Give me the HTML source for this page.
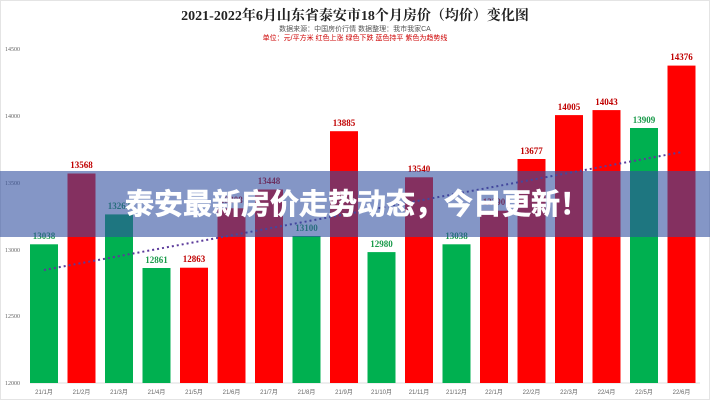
<!DOCTYPE html>
<html><head><meta charset="utf-8"><style>
html,body{margin:0;padding:0;background:#fff;}
svg{display:block;}
</style></head><body>
<svg width="710" height="400" viewBox="0 0 710 400" xmlns="http://www.w3.org/2000/svg" font-family="'Liberation Serif','Noto Serif CJK SC',serif">
<rect x="0" y="0" width="710" height="400" fill="#fff"/>
<rect x="0.5" y="0.5" width="709" height="399" fill="none" stroke="#e4e4e4"/>
<text x="355" y="20" text-anchor="middle" font-size="14" font-weight="bold" fill="#222">2021-2022年6月山东省泰安市18个月房价（均价）变化图</text>
<text x="355" y="31" text-anchor="middle" font-size="7" fill="#555" font-family="'Liberation Sans','Noto Sans CJK SC',sans-serif">数据来源：中国房价行情  数据整理：我市我家CA</text>
<text x="355" y="40" text-anchor="middle" font-size="7" fill="#c00" font-family="'Liberation Sans','Noto Sans CJK SC',sans-serif">单位：元/平方米  红色上涨  绿色下跌  蓝色持平  紫色为趋势线</text>
<g font-size="6" fill="#666">
<text x="5" y="51">14500</text><text x="5" y="118">14000</text><text x="5" y="185">13500</text><text x="5" y="252">13000</text><text x="5" y="318">12500</text><text x="5" y="385">12000</text>
</g>
<line x1="30" y1="383" x2="700" y2="383" stroke="#ddd"/>
<g>
<rect x="30" y="244.3" width="28" height="138.7" fill="#00b050"/>
<rect x="67.5" y="173.5" width="28" height="209.5" fill="#ff0000"/>
<rect x="105" y="214.4" width="28" height="168.6" fill="#00b050"/>
<rect x="142.5" y="268" width="28" height="115" fill="#00b050"/>
<rect x="180" y="267.7" width="28" height="115.3" fill="#ff0000"/>
<rect x="217.5" y="208.3" width="28" height="174.7" fill="#ff0000"/>
<rect x="255" y="189.5" width="28" height="193.5" fill="#ff0000"/>
<rect x="292.5" y="236" width="28" height="147" fill="#00b050"/>
<rect x="330" y="131.2" width="28" height="251.8" fill="#ff0000"/>
<rect x="367.5" y="252.1" width="28" height="130.9" fill="#00b050"/>
<rect x="405" y="177.3" width="28" height="205.7" fill="#ff0000"/>
<rect x="442.5" y="244.3" width="28" height="138.7" fill="#00b050"/>
<rect x="480" y="210.7" width="28" height="172.3" fill="#ff0000"/>
<rect x="517.5" y="159" width="28" height="224" fill="#ff0000"/>
<rect x="555" y="115.1" width="28" height="267.9" fill="#ff0000"/>
<rect x="592.5" y="110.1" width="28" height="272.9" fill="#ff0000"/>
<rect x="630" y="128" width="28" height="255" fill="#00b050"/>
<rect x="667.5" y="65.6" width="28" height="317.4" fill="#ff0000"/>
</g>
<line x1="44" y1="270" x2="682" y2="152" stroke="#5b3a9a" stroke-width="2" stroke-dasharray="2,3"/>
<g font-size="9" font-weight="bold" text-anchor="middle">
<text x="44" y="239" fill="#1a9a4a">13038</text>
<text x="81.5" y="168" fill="#c00000">13568</text>
<text x="119" y="209" fill="#1a9a4a">13262</text>
<text x="156.5" y="263" fill="#1a9a4a">12861</text>
<text x="194" y="262" fill="#c00000">12863</text>
<text x="231.5" y="203" fill="#c00000">13308</text>
<text x="269" y="184" fill="#c00000">13448</text>
<text x="306.5" y="231" fill="#1a9a4a">13100</text>
<text x="344" y="126" fill="#c00000">13885</text>
<text x="381.5" y="247" fill="#1a9a4a">12980</text>
<text x="419" y="172" fill="#c00000">13540</text>
<text x="456.5" y="239" fill="#1a9a4a">13038</text>
<text x="494" y="205" fill="#c00000">13290</text>
<text x="531.5" y="154" fill="#c00000">13677</text>
<text x="569" y="110" fill="#c00000">14005</text>
<text x="606.5" y="105" fill="#c00000">14043</text>
<text x="644" y="123" fill="#1a9a4a">13909</text>
<text x="681.5" y="60" fill="#c00000">14376</text>
</g>
<g font-size="6" fill="#666" text-anchor="middle" font-family="'Liberation Sans','Noto Sans CJK SC',sans-serif">
<text x="44" y="394">21/1月</text><text x="81.5" y="394">21/2月</text><text x="119" y="394">21/3月</text><text x="156.5" y="394">21/4月</text><text x="194" y="394">21/5月</text><text x="231.5" y="394">21/6月</text><text x="269" y="394">21/7月</text><text x="306.5" y="394">21/8月</text><text x="344" y="394">21/9月</text><text x="381.5" y="394">21/10月</text><text x="419" y="394">21/11月</text><text x="456.5" y="394">21/12月</text><text x="494" y="394">22/1月</text><text x="531.5" y="394">22/2月</text><text x="569" y="394">22/3月</text><text x="606.5" y="394">22/4月</text><text x="644" y="394">22/5月</text><text x="681.5" y="394">22/6月</text>
</g>
<rect x="0" y="171" width="710" height="66" fill="rgb(50,80,160)" fill-opacity="0.6"/>
<text x="357" y="214" text-anchor="middle" font-size="29" font-weight="bold" fill="#fff" stroke="#fff" stroke-width="0.6" font-family="'Liberation Sans','Noto Sans CJK SC',sans-serif">泰安最新房价走势动态，今日更新！</text>
</svg>
</body></html>
